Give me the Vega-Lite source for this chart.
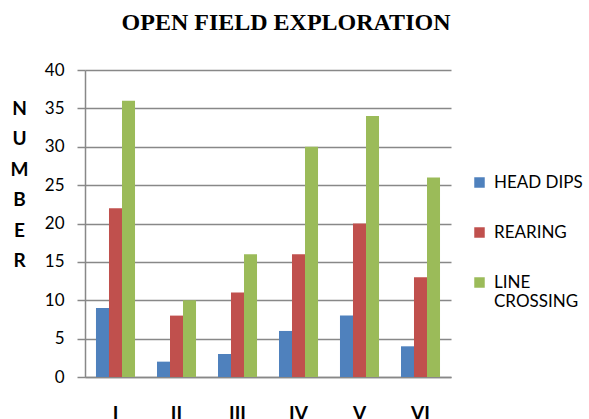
{
  "$schema": "https://vega.github.io/schema/vega-lite/v6.json",
  "autosize": "none",
  "width": 366,
  "height": 307,
  "padding": {"left": 85, "top": 70, "right": 138, "bottom": 42},
  "background": "white",
  "title": {
    "text": "OPEN FIELD EXPLORATION",
    "font": "Liberation Serif",
    "fontSize": 24,
    "fontWeight": "bold",
    "color": "#000000",
    "anchor": "middle",
    "dx": 18,
    "offset": 7,
    "baseline": "alphabetic"
  },
  "data": {
    "values": [
      {"group": "I", "measure": "HEAD DIPS", "value": 9},
      {"group": "I", "measure": "REARING", "value": 22},
      {"group": "I", "measure": "LINE CROSSING", "value": 36},
      {"group": "II", "measure": "HEAD DIPS", "value": 2},
      {"group": "II", "measure": "REARING", "value": 8},
      {"group": "II", "measure": "LINE CROSSING", "value": 10},
      {"group": "III", "measure": "HEAD DIPS", "value": 3},
      {"group": "III", "measure": "REARING", "value": 11},
      {"group": "III", "measure": "LINE CROSSING", "value": 16},
      {"group": "IV", "measure": "HEAD DIPS", "value": 6},
      {"group": "IV", "measure": "REARING", "value": 16},
      {"group": "IV", "measure": "LINE CROSSING", "value": 30},
      {"group": "V", "measure": "HEAD DIPS", "value": 8},
      {"group": "V", "measure": "REARING", "value": 20},
      {"group": "V", "measure": "LINE CROSSING", "value": 34},
      {"group": "VI", "measure": "HEAD DIPS", "value": 4},
      {"group": "VI", "measure": "REARING", "value": 13},
      {"group": "VI", "measure": "LINE CROSSING", "value": 26}
    ]
  },
  "mark": {"type": "bar"},
  "encoding": {
    "x": {
      "field": "group",
      "type": "nominal",
      "sort": ["I", "II", "III", "IV", "V", "VI"],
      "scale": {"paddingInner": 0.36, "paddingOuter": 0.18},
      "axis": {
        "title": null,
        "labelAngle": 0,
        "labelFont": "Lato",
        "labelFontSize": 19,
        "labelFontWeight": "bold",
        "labelColor": "#000000",
        "labelPadding": 27,
        "ticks": false,
        "domainColor": "#888888",
        "domainWidth": 1.5
      }
    },
    "xOffset": {
      "field": "measure",
      "type": "nominal",
      "sort": ["HEAD DIPS", "REARING", "LINE CROSSING"]
    },
    "y": {
      "field": "value",
      "type": "quantitative",
      "scale": {"domain": [0, 40], "nice": false},
      "axis": {
        "values": [0, 5, 10, 15, 20, 25, 30, 35, 40],
        "labelFont": "Lato",
        "labelFontSize": 17,
        "labelColor": "#000000",
        "labelPadding": 13,
        "tickSize": 8,
        "tickColor": "#888888",
        "tickWidth": 1.5,
        "domainColor": "#888888",
        "domainWidth": 1.5,
        "grid": true,
        "gridColor": "#888888",
        "gridWidth": 1.5,
        "title": ["N", "U", "M", "B", "E", "R"],
        "titleAngle": 0,
        "titleFont": "Lato",
        "titleFontSize": 19,
        "titleFontWeight": "bold",
        "titleColor": "#000000",
        "titleLineHeight": 30.5,
        "titleAlign": "center",
        "titleBaseline": "top",
        "titleX": -66,
        "titleY": 29
      }
    },
    "color": {
      "field": "measure",
      "type": "nominal",
      "sort": ["HEAD DIPS", "REARING", "LINE CROSSING"],
      "scale": {
        "domain": ["HEAD DIPS", "REARING", "LINE CROSSING"],
        "range": ["#4F81BD", "#C0504D", "#9BBB59"]
      },
      "legend": {
        "title": null,
        "orient": "none",
        "legendX": 386,
        "legendY": 104,
        "symbolType": "square",
        "symbolSize": 110,
        "symbolStrokeWidth": 0,
        "labelFont": "Lato",
        "labelFontSize": 17,
        "labelColor": "#000000",
        "labelOffset": 6,
        "rowPadding": 32,
        "labelExpr": "datum.label == 'LINE CROSSING' ? ['LINE', 'CROSSING'] : datum.label",
        "labelLineHeight": 28
      }
    }
  },
  "config": {
    "view": {"stroke": null},
    "axis": {"gridDash": []}
  }
}
